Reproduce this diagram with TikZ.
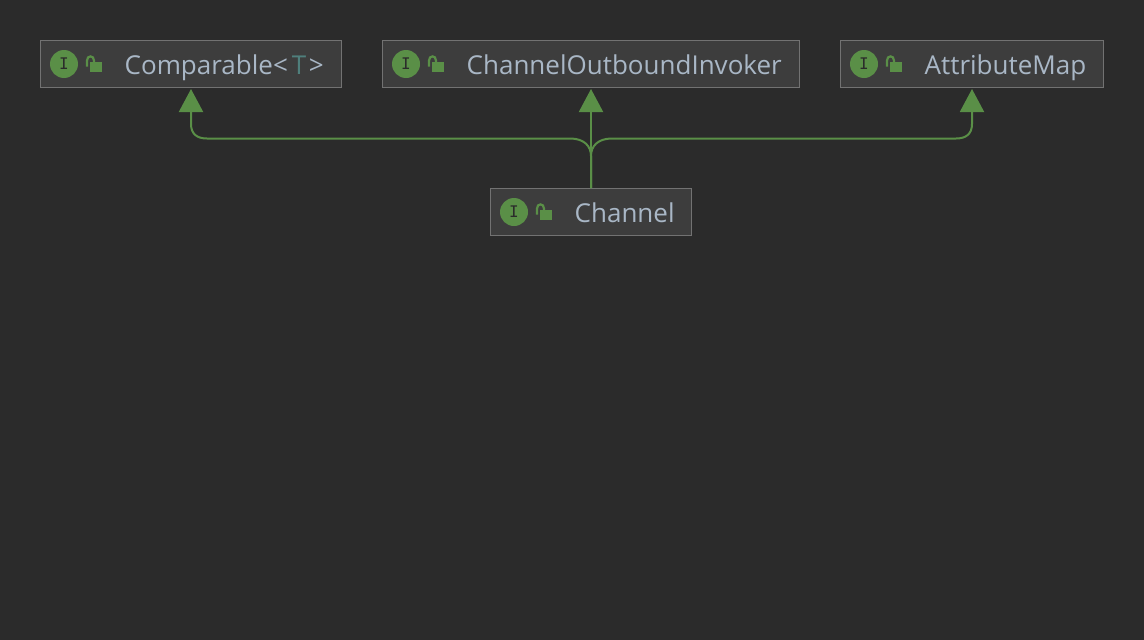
\documentclass[tikz,border=0pt]{standalone}
\usepackage{fontspec}
\setmainfont{Open Sans}
\newfontfamily\monof{DejaVu Sans Mono}
\usetikzlibrary{arrows.meta}
\definecolor{bgc}{HTML}{2B2B2B}
\definecolor{boxc}{HTML}{3D3D3D}
\definecolor{edgec}{HTML}{727272}
\definecolor{greenc}{HTML}{5A8F47}
\definecolor{textc}{HTML}{A9B7C6}
\definecolor{typec}{HTML}{4F7F7C}
\tikzset{
  x=1pt,y=-1pt,
  classbox/.style={draw=edgec,fill=boxc,line width=1pt,minimum height=47pt,inner sep=0pt,anchor=north west},
  classname/.style={text=textc,font=\fontsize{26}{30}\selectfont,anchor=base west,inner sep=0pt},
  ibadge/.style={circle,fill=greenc,minimum size=28pt,inner sep=0pt,text=bgc,font=\fontsize{16}{16}\selectfont\monof},
  inherit/.style={draw=greenc,line width=2pt,-{Triangle[length=23pt,width=24pt,fill=greenc]},shorten >=1pt},
}
\newcommand{\lockat}[2]{%
  \fill[greenc] (#1+5,#2-2) rectangle (#1+17,#2+8);
  \draw[greenc,line width=2.2pt] (#1+2,#2+2.5) -- (#1+2,#2-3.5) .. controls (#1+2,#2-9) and (#1+9,#2-9) .. (#1+9,#2-3.5) -- (#1+9,#2-2);
}
\begin{document}
\begin{tikzpicture}
\useasboundingbox[fill=bgc] (0,0) rectangle (1144,640);
\node[classbox,minimum width=301pt] (cmp) at (40,40) {};
\node[classbox,minimum width=417pt] (coi) at (382,40) {};
\node[classbox,minimum width=263pt] (atm) at (840,40) {};
\node[classbox,minimum width=201pt] (chn) at (490,188) {};
\node[ibadge] (icmp) at (64,64) {I};
\node[ibadge] (icoi) at (406,64) {I};
\node[ibadge] (iatm) at (864,64) {I};
\node[ibadge] (ichn) at (514,212) {I};
\lockat{85}{64}
\lockat{427}{64}
\lockat{885}{64}
\lockat{535}{212}
\node[classname] (tcmp) at (124.5,74.5) {Comparable<\hspace{4pt}\textcolor{typec}{T}\hspace{2.5pt}>};
\node[classname] (tcoi) at (466.5,74.5) {ChannelOutboundInvoker};
\node[classname] (tatm) at (924.5,74.5) {AttributeMap};
\node[classname] (tchn) at (574.5,222.5) {Channel};
\draw[inherit] (chn.north) -- (coi.south);
\draw[inherit] (chn.north) -- (591,156) .. controls (591,146) and (584,138.5) .. (570,138.5) -- (207,138.5) .. controls (197,138.5) and (191,134) .. (191,124) -- (cmp.south);
\draw[inherit] (chn.north) -- (591,156) .. controls (591,146) and (598,138.5) .. (612,138.5) -- (956,138.5) .. controls (966,138.5) and (972,134) .. (972,124) -- (atm.south);
\end{tikzpicture}
\end{document}
